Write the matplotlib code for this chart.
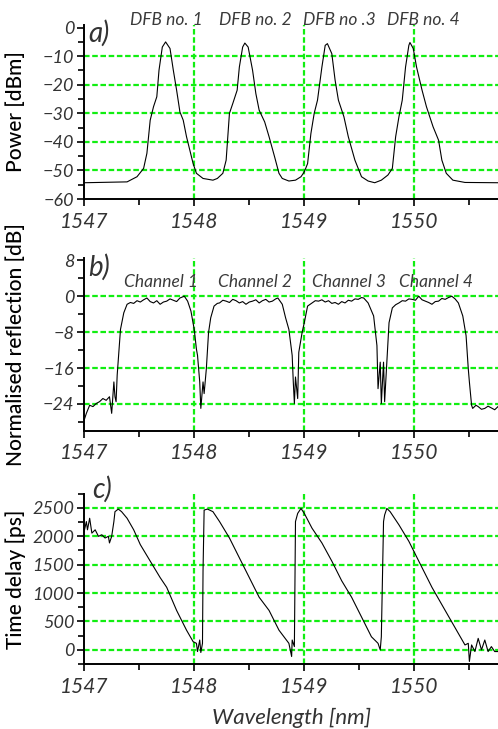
import matplotlib
matplotlib.use("Agg")
import matplotlib.pyplot as plt
from matplotlib.ticker import MultipleLocator

plt.rcParams['font.family'] = ['Lato', 'DejaVu Sans']

# a) DFB laser spectra
wl_a = [1547.00, 1547.39, 1547.48, 1547.54, 1547.57, 1547.60, 1547.63, 1547.66, 1547.68, 1547.71,
        1547.74, 1547.78, 1547.81, 1547.84, 1547.87, 1547.90, 1547.93, 1547.96, 1547.99, 1548.02,
        1548.08, 1548.17, 1548.21, 1548.26, 1548.29, 1548.32, 1548.35, 1548.39, 1548.41, 1548.44,
        1548.46, 1548.49, 1548.53, 1548.56, 1548.59, 1548.64, 1548.68, 1548.73, 1548.77, 1548.80,
        1548.86, 1548.92, 1548.97, 1549.00, 1549.03, 1549.06, 1549.09, 1549.12, 1549.16, 1549.19,
        1549.21, 1549.25, 1549.28, 1549.31, 1549.36, 1549.40, 1549.46, 1549.52, 1549.58, 1549.64,
        1549.70, 1549.76, 1549.80, 1549.83, 1549.86, 1549.89, 1549.92, 1549.95, 1549.96, 1549.99,
        1550.02, 1550.07, 1550.11, 1550.17, 1550.22, 1550.25, 1550.29, 1550.35, 1550.46, 1550.76]
power = [-54.3, -54.0, -52.2, -49.3, -44.0, -32.4, -27.7, -24.2, -14.9, -6.8,
         -5.0, -7.3, -14.9, -21.9, -29.5, -32.4, -38.2, -42.9, -47.6, -51.0,
         -52.8, -53.4, -52.8, -51.0, -46.4, -30.0, -26.6, -21.9, -13.8, -6.8,
         -5.4, -6.8, -14.9, -23.1, -28.9, -33.0, -38.2, -45.2, -51.0, -52.8,
         -53.7, -53.4, -52.2, -50.5, -47.6, -37.1, -30.0, -25.4, -13.8, -6.2,
         -5.6, -9.1, -18.4, -25.4, -31.2, -38.2, -46.4, -52.2, -53.7, -54.3,
         -53.4, -51.6, -49.3, -38.2, -31.2, -25.4, -13.8, -6.2, -5.2, -7.3,
         -13.8, -21.9, -27.7, -34.7, -39.4, -46.4, -51.0, -53.4, -54.2, -54.3]

# b) normalised reflection
wl_b = [1547.00, 1547.02, 1547.05, 1547.08, 1547.11, 1547.14, 1547.17, 1547.20, 1547.23, 1547.25,
        1547.27, 1547.28, 1547.29, 1547.30, 1547.33, 1547.36, 1547.39, 1547.42, 1547.45, 1547.48,
        1547.51, 1547.54, 1547.57, 1547.60, 1547.63, 1547.66, 1547.69, 1547.72, 1547.75, 1547.78,
        1547.81, 1547.84, 1547.87, 1547.91, 1547.94, 1547.97, 1548.00, 1548.02,
        1548.03, 1548.05, 1548.06, 1548.08, 1548.09, 1548.11, 1548.13, 1548.15, 1548.18, 1548.21,
        1548.23, 1548.26, 1548.29, 1548.32, 1548.35, 1548.38, 1548.41, 1548.44, 1548.47, 1548.50,
        1548.53, 1548.56, 1548.59, 1548.62, 1548.65, 1548.68, 1548.71, 1548.74, 1548.76, 1548.80,
        1548.83, 1548.86, 1548.89, 1548.90, 1548.91, 1548.92, 1548.94, 1548.95, 1548.98, 1549.00,
        1549.03, 1549.07, 1549.10, 1549.13, 1549.16, 1549.19, 1549.22, 1549.25, 1549.28, 1549.31,
        1549.34, 1549.37, 1549.40, 1549.43, 1549.46, 1549.49, 1549.52, 1549.54,
        1549.58, 1549.63, 1549.66, 1549.67, 1549.69, 1549.70, 1549.72, 1549.73, 1549.75, 1549.77,
        1549.80, 1549.83, 1549.86, 1549.89, 1549.92, 1549.95, 1549.98, 1550.01, 1550.04, 1550.07,
        1550.10, 1550.13, 1550.16, 1550.19, 1550.22, 1550.25, 1550.28, 1550.31, 1550.34, 1550.37,
        1550.40, 1550.44, 1550.47, 1550.49, 1550.50, 1550.52, 1550.53, 1550.56, 1550.58, 1550.61,
        1550.64, 1550.67, 1550.70, 1550.73, 1550.76]
reflection = [-27.6, -26.1, -24.3, -24.6, -23.9, -23.5, -22.8, -23.2, -22.4, -26.1,
              -19.1, -22.4, -23.5, -17.6, -7.4, -3.7, -1.8, -1.4, -1.6, -1.0,
              -1.3, -0.8, -0.4, -1.2, -1.5, -1.0, -1.8, -1.3, -1.1, -0.6,
              -0.9, -1.2, -0.4, 0.0, -1.1, -3.3, -7.4, -11.8,
              -13.2, -19.1, -25.0, -19.1, -21.7, -16.2, -8.1, -4.8, -2.2, -1.6,
              -1.5, -0.9, -1.1, -1.4, -0.7, -1.0, -1.5, -1.2, -1.8, -1.3,
              -1.1, -0.8, -1.5, -1.0, -0.7, -1.3, -1.1, -0.6, -0.4, -1.8,
              -4.8, -7.4, -13.2, -19.1, -23.9, -18.0, -22.8, -12.5, -8.1, -5.9,
              -2.2, -1.5, -1.0, -1.1, -0.8, -1.3, -1.0, -1.6, -1.4, -1.8,
              -1.2, -1.5, -0.9, -1.1, -0.6, -0.7, -0.3, -0.4,
              -1.5, -4.4, -11.0, -20.6, -14.7, -23.9, -14.7, -23.5, -14.7, -5.9,
              -2.6, -1.9, -1.5, -1.0, -1.1, -0.6, -0.7, -0.9, 0.0, -0.8,
              -1.1, -1.4, -1.8, -1.2, -1.1, -0.5, -0.7, -0.3, 0.0, -0.6,
              -1.5, -4.4, -8.8, -16.2, -19.1, -24.3, -25.0, -24.3, -24.6, -25.2,
              -25.0, -24.5, -24.9, -25.3, -24.6]

# c) time delay
wl_c = [1547.00, 1547.02, 1547.03, 1547.05, 1547.07, 1547.10, 1547.13, 1547.16, 1547.19, 1547.22,
        1547.23, 1547.25, 1547.27, 1547.28, 1547.31, 1547.34, 1547.39, 1547.45, 1547.51, 1547.60,
        1547.69, 1547.75, 1547.84, 1547.93, 1547.99, 1548.02, 1548.03, 1548.05, 1548.06, 1548.075,
        1548.08, 1548.09, 1548.12, 1548.17, 1548.23, 1548.32, 1548.41, 1548.50, 1548.59, 1548.68,
        1548.77, 1548.86, 1548.885, 1548.89, 1548.91, 1548.92, 1548.94, 1548.97, 1549.00, 1549.07,
        1549.16, 1549.25, 1549.34, 1549.43, 1549.52, 1549.61, 1549.67, 1549.69, 1549.70, 1549.72,
        1549.73, 1549.75, 1549.78, 1549.86, 1549.95, 1550.04, 1550.16, 1550.28, 1550.40, 1550.46,
        1550.49, 1550.50, 1550.52, 1550.55, 1550.58, 1550.61, 1550.64, 1550.67, 1550.70, 1550.73,
        1550.76]
delay = [2083, 2257, 2112, 2315, 2054, 2112, 1997, 2025, 1968, 1997,
         1881, 1997, 2257, 2431, 2477, 2431, 2315, 2112, 1852, 1562,
         1273, 1100, 694, 347, 145, 116, -29, 174, -46, 116,
         1389, 2459, 2477, 2431, 2257, 1968, 1620, 1273, 926, 694,
         347, 116, -116, 174, 58, 2257, 2401, 2488, 2401, 2141,
         1881, 1562, 1215, 926, 579, 231, 116, 0, 231, 2257,
         2373, 2488, 2431, 2199, 1910, 1562, 1100, 694, 289, 87,
         116, -203, 87, -29, 203, 0, 174, -29, 58, -29,
         -29]

dfb_labels = ["DFB no. 1", "DFB no. 2", "DFB no .3", "DFB no. 4"]
dfb_pos = [1547.75, 1548.56, 1549.32, 1550.08]
chan_labels = ["Channel 1", "Channel 2", "Channel 3", "Channel 4"]
chan_pos = [1547.70, 1548.55, 1549.41, 1550.20]

green = "#11ee11"
tick_font = dict(fontstyle="italic", fontweight="normal", color="#333333")
label_font = dict(fontsize=15, fontweight="medium", color="black")

fig = plt.figure(figsize=(4.98, 7.29), dpi=100)
ax_a = fig.add_axes([0.169, 0.727, 0.831, 0.239])
ax_b = fig.add_axes([0.169, 0.409, 0.831, 0.237])
ax_c = fig.add_axes([0.169, 0.089, 0.831, 0.234])


def style(ax, ymaj, ymin, ylim, grid_y):
    ax.set_xlim(1547, 1550.76)
    ax.set_ylim(*ylim)
    for s in ("top", "right"):
        ax.spines[s].set_visible(False)
    for s in ("left", "bottom"):
        ax.spines[s].set_linewidth(1.4)
        ax.spines[s].set_zorder(5)
    ax.xaxis.set_major_locator(MultipleLocator(1))
    ax.xaxis.set_minor_locator(MultipleLocator(0.5))
    ax.yaxis.set_major_locator(MultipleLocator(ymaj))
    ax.yaxis.set_minor_locator(MultipleLocator(ymin))
    ax.tick_params(which="major", direction="out", length=5, width=1.2, pad=2)
    ax.tick_params(which="minor", direction="out", length=4, width=1.2)
    ax.tick_params(axis="x", labelsize=15, pad=4)
    ax.tick_params(axis="y", labelsize=13)
    ax.set_xticks([1547, 1548, 1549, 1550])
    ax.set_xticklabels(["1547", "1548", "1549", "1550"], **tick_font)
    for lab in ax.get_yticklabels():
        lab.set(**tick_font)
    for gx in (1548, 1549, 1550):
        ax.axvline(gx, color=green, lw=1.6, ls=(0, (2.5, 1.2)), zorder=1)
    for gy in grid_y:
        ax.axhline(gy, color=green, lw=1.6, ls=(0, (2.5, 1.2)), zorder=1)
    ax.yaxis.set_label_coords(-0.14, 0.5)


style(ax_a, 10, 5, (-60, 1), [-10, -20, -30, -40, -50])
ax_a.plot(wl_a, power, color="black", lw=0.8, zorder=3)
ax_a.set_ylabel("Power [dBm]", **label_font)
for lab, x in zip(dfb_labels, dfb_pos):
    ax_a.text(x, -0.2, lab, ha="center", va="bottom", fontsize=12.5, clip_on=False,
              fontstyle="italic", color="#3a3a3a")
ax_a.text(1547.04, -2, "a)", fontsize=20, ha="left", va="center", **tick_font)

style(ax_b, 8, 4, (-30, 8.5), [0, -8, -16, -24])
ax_b.plot(wl_b, reflection, color="black", lw=0.8, zorder=3)
ax_b.set_ylabel("Normalised reflection [dB]", **label_font)
for lab, x in zip(chan_labels, chan_pos):
    ax_b.text(x, 3.2, lab, ha="center", va="center", fontsize=12.5,
              fontstyle="italic", color="#3a3a3a")
ax_b.text(1547.04, 6.5, "b)", fontsize=20, ha="left", va="center", **tick_font)

style(ax_c, 500, 250, (-250, 2750), [0, 500, 1000, 1500, 2000, 2500])
ax_c.plot(wl_c, delay, color="black", lw=0.8, zorder=3)
ax_c.set_ylabel("Time delay [ps]", **label_font)
ax_c.set_xlabel("Wavelength [nm]", fontsize=16, labelpad=8, **tick_font)
ax_c.text(1547.07, 2820, "c)", fontsize=20, ha="left", va="center", clip_on=False,
          **tick_font)

fig.savefig("out.png", dpi=100)
